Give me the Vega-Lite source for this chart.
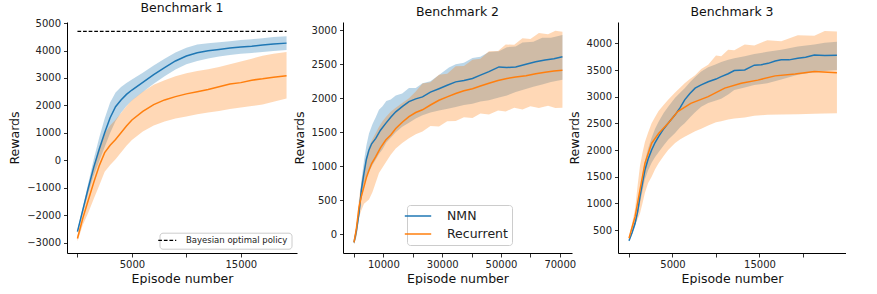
{
 "$schema": "https://vega.github.io/schema/vega-lite/v6.json",
 "autosize": {"type": "pad"},
 "padding": {"left": 8, "top": 1, "right": 0, "bottom": 0},
 "background": "white",
 "bounds": "flush",
 "spacing": 46,
 "config": {
  "font": "DejaVu Sans",
  "view": {"stroke": null},
  "axis": {"domainColor": "#000", "domainWidth": 1, "tickColor": "#333", "tickWidth": 1, "labelColor": "#222", "labelFontSize": 10, "titleFontSize": 12.5, "titleFontWeight": "normal", "titleColor": "#111", "grid": false, "labelFont": "DejaVu Sans", "titleFont": "DejaVu Sans", "labelOverlap": false, "tickCount": 30},
  "title": {"fontSize": 12.5, "fontWeight": "normal", "font": "DejaVu Sans", "offset": 4, "color": "#111"},
  "legend": {"labelFont": "DejaVu Sans", "labelColor": "#222", "strokeColor": "#cccccc", "fillColor": "rgba(255,255,255,0.8)", "cornerRadius": 3}
 },
 "datasets": {
  "l1": [
   {"s":"NMN","x":0,"y":-2600},{"s":"NMN","x":500,"y":-1800},{"s":"NMN","x":1000,"y":-1000},{"s":"NMN","x":1500,"y":-250},{"s":"NMN","x":2000,"y":400},{"s":"NMN","x":2500,"y":1000},{"s":"NMN","x":3000,"y":1550},{"s":"NMN","x":3500,"y":1950},{"s":"NMN","x":4000,"y":2200},{"s":"NMN","x":4500,"y":2400},{"s":"NMN","x":5000,"y":2560},{"s":"NMN","x":6000,"y":2840},{"s":"NMN","x":7000,"y":3120},{"s":"NMN","x":8000,"y":3380},{"s":"NMN","x":9000,"y":3620},{"s":"NMN","x":10000,"y":3800},{"s":"NMN","x":11000,"y":3920},{"s":"NMN","x":12000,"y":3990},{"s":"NMN","x":13000,"y":4040},{"s":"NMN","x":14000,"y":4090},{"s":"NMN","x":15000,"y":4130},{"s":"NMN","x":16000,"y":4160},{"s":"NMN","x":17000,"y":4200},{"s":"NMN","x":18000,"y":4240},{"s":"NMN","x":19200,"y":4270},
   {"s":"Recurrent","x":0,"y":-2850},{"s":"Recurrent","x":500,"y":-2100},{"s":"Recurrent","x":1000,"y":-1450},{"s":"Recurrent","x":1500,"y":-800},{"s":"Recurrent","x":2000,"y":-200},{"s":"Recurrent","x":2500,"y":280},{"s":"Recurrent","x":3000,"y":550},{"s":"Recurrent","x":3500,"y":760},{"s":"Recurrent","x":4000,"y":1000},{"s":"Recurrent","x":4500,"y":1250},{"s":"Recurrent","x":5000,"y":1470},{"s":"Recurrent","x":6000,"y":1780},{"s":"Recurrent","x":7000,"y":2030},{"s":"Recurrent","x":8000,"y":2200},{"s":"Recurrent","x":9000,"y":2320},{"s":"Recurrent","x":10000,"y":2420},{"s":"Recurrent","x":11000,"y":2500},{"s":"Recurrent","x":12000,"y":2580},{"s":"Recurrent","x":13000,"y":2680},{"s":"Recurrent","x":14000,"y":2780},{"s":"Recurrent","x":15000,"y":2830},{"s":"Recurrent","x":16000,"y":2920},{"s":"Recurrent","x":17000,"y":2970},{"s":"Recurrent","x":18000,"y":3030},{"s":"Recurrent","x":19200,"y":3080}
  ],
  "b1": [
   {"s":"NMN","x":0,"lo":-2660,"hi":-2540},{"s":"NMN","x":500,"lo":-1900,"hi":-1700},{"s":"NMN","x":1000,"lo":-1180,"hi":-820},{"s":"NMN","x":1500,"lo":-550,"hi":50},{"s":"NMN","x":2000,"lo":-30,"hi":830},{"s":"NMN","x":2500,"lo":480,"hi":1520},{"s":"NMN","x":3000,"lo":990,"hi":2110},{"s":"NMN","x":3500,"lo":1430,"hi":2470},{"s":"NMN","x":4000,"lo":1730,"hi":2670},{"s":"NMN","x":4500,"lo":1980,"hi":2820},{"s":"NMN","x":5000,"lo":2180,"hi":2940},{"s":"NMN","x":6000,"lo":2490,"hi":3190},{"s":"NMN","x":7000,"lo":2790,"hi":3450},{"s":"NMN","x":8000,"lo":3060,"hi":3700},{"s":"NMN","x":9000,"lo":3310,"hi":3930},{"s":"NMN","x":10000,"lo":3500,"hi":4100},{"s":"NMN","x":11000,"lo":3620,"hi":4220},{"s":"NMN","x":12000,"lo":3710,"hi":4270},{"s":"NMN","x":13000,"lo":3780,"hi":4300},{"s":"NMN","x":14000,"lo":3840,"hi":4340},{"s":"NMN","x":15000,"lo":3880,"hi":4380},{"s":"NMN","x":16000,"lo":3910,"hi":4410},{"s":"NMN","x":17000,"lo":3950,"hi":4450},{"s":"NMN","x":18000,"lo":3985,"hi":4495},{"s":"NMN","x":19200,"lo":4015,"hi":4525},
   {"s":"Recurrent","x":0,"lo":-2950,"hi":-2750},{"s":"Recurrent","x":500,"lo":-2350,"hi":-1850},{"s":"Recurrent","x":1000,"lo":-1900,"hi":-1000},{"s":"Recurrent","x":1500,"lo":-1400,"hi":-200},{"s":"Recurrent","x":2000,"lo":-920,"hi":500},{"s":"Recurrent","x":2500,"lo":-420,"hi":980},{"s":"Recurrent","x":3000,"lo":-170,"hi":1270},{"s":"Recurrent","x":3500,"lo":40,"hi":1480},{"s":"Recurrent","x":4000,"lo":280,"hi":1720},{"s":"Recurrent","x":4500,"lo":530,"hi":1970},{"s":"Recurrent","x":5000,"lo":740,"hi":2190},{"s":"Recurrent","x":6000,"lo":1050,"hi":2500},{"s":"Recurrent","x":7000,"lo":1270,"hi":2750},{"s":"Recurrent","x":8000,"lo":1410,"hi":2920},{"s":"Recurrent","x":9000,"lo":1520,"hi":3060},{"s":"Recurrent","x":10000,"lo":1600,"hi":3170},{"s":"Recurrent","x":11000,"lo":1680,"hi":3250},{"s":"Recurrent","x":12000,"lo":1740,"hi":3320},{"s":"Recurrent","x":13000,"lo":1800,"hi":3400},{"s":"Recurrent","x":14000,"lo":1870,"hi":3500},{"s":"Recurrent","x":15000,"lo":1920,"hi":3600},{"s":"Recurrent","x":16000,"lo":1980,"hi":3700},{"s":"Recurrent","x":17000,"lo":2030,"hi":3810},{"s":"Recurrent","x":18000,"lo":2130,"hi":3880},{"s":"Recurrent","x":19200,"lo":2250,"hi":3950}
  ],
  "l2": [
   {"s":"NMN","x":0,"y":-120},{"s":"NMN","x":800,"y":50},{"s":"NMN","x":1700,"y":310},{"s":"NMN","x":2500,"y":650},{"s":"NMN","x":3400,"y":900},{"s":"NMN","x":4200,"y":1100},{"s":"NMN","x":5100,"y":1240},{"s":"NMN","x":6000,"y":1330},{"s":"NMN","x":7400,"y":1410},{"s":"NMN","x":9000,"y":1530},{"s":"NMN","x":10800,"y":1630},{"s":"NMN","x":12500,"y":1720},{"s":"NMN","x":14200,"y":1800},{"s":"NMN","x":16500,"y":1880},{"s":"NMN","x":18700,"y":1950},{"s":"NMN","x":21000,"y":1990},{"s":"NMN","x":23300,"y":2020},{"s":"NMN","x":26000,"y":2090},{"s":"NMN","x":28900,"y":2140},{"s":"NMN","x":31700,"y":2190},{"s":"NMN","x":34600,"y":2240},{"s":"NMN","x":37400,"y":2260},{"s":"NMN","x":40300,"y":2290},{"s":"NMN","x":43000,"y":2340},{"s":"NMN","x":45900,"y":2390},{"s":"NMN","x":49300,"y":2460},{"s":"NMN","x":52000,"y":2450},{"s":"NMN","x":55000,"y":2460},{"s":"NMN","x":58500,"y":2500},{"s":"NMN","x":61800,"y":2535},{"s":"NMN","x":65000,"y":2560},{"s":"NMN","x":68000,"y":2580},{"s":"NMN","x":70900,"y":2610},
   {"s":"Recurrent","x":0,"y":-120},{"s":"Recurrent","x":800,"y":80},{"s":"Recurrent","x":1700,"y":400},{"s":"Recurrent","x":2500,"y":560},{"s":"Recurrent","x":3400,"y":700},{"s":"Recurrent","x":4200,"y":830},{"s":"Recurrent","x":5100,"y":940},{"s":"Recurrent","x":6000,"y":1040},{"s":"Recurrent","x":7400,"y":1140},{"s":"Recurrent","x":9000,"y":1270},{"s":"Recurrent","x":10800,"y":1385},{"s":"Recurrent","x":12500,"y":1460},{"s":"Recurrent","x":14200,"y":1555},{"s":"Recurrent","x":16500,"y":1650},{"s":"Recurrent","x":18700,"y":1730},{"s":"Recurrent","x":21000,"y":1790},{"s":"Recurrent","x":23300,"y":1830},{"s":"Recurrent","x":26000,"y":1900},{"s":"Recurrent","x":28900,"y":1970},{"s":"Recurrent","x":31700,"y":2020},{"s":"Recurrent","x":34600,"y":2070},{"s":"Recurrent","x":37400,"y":2110},{"s":"Recurrent","x":40300,"y":2140},{"s":"Recurrent","x":43000,"y":2180},{"s":"Recurrent","x":45900,"y":2220},{"s":"Recurrent","x":49000,"y":2260},{"s":"Recurrent","x":52000,"y":2290},{"s":"Recurrent","x":55000,"y":2310},{"s":"Recurrent","x":58500,"y":2330},{"s":"Recurrent","x":61800,"y":2360},{"s":"Recurrent","x":65000,"y":2380},{"s":"Recurrent","x":68000,"y":2400},{"s":"Recurrent","x":70900,"y":2410}
  ],
  "b2": [
   {"s":"NMN","x":0,"lo":-150,"hi":-100},{"s":"NMN","x":900,"lo":-20,"hi":120},{"s":"NMN","x":1700,"lo":230,"hi":380},{"s":"NMN","x":2500,"lo":500,"hi":780},{"s":"NMN","x":3400,"lo":720,"hi":1080},{"s":"NMN","x":4200,"lo":850,"hi":1300},{"s":"NMN","x":5100,"lo":920,"hi":1480},{"s":"NMN","x":6300,"lo":1020,"hi":1620},{"s":"NMN","x":7400,"lo":1100,"hi":1720},{"s":"NMN","x":8500,"lo":1180,"hi":1830},{"s":"NMN","x":9700,"lo":1250,"hi":1880},{"s":"NMN","x":11000,"lo":1350,"hi":1960},{"s":"NMN","x":12500,"lo":1420,"hi":1980},{"s":"NMN","x":14200,"lo":1500,"hi":2040},{"s":"NMN","x":16400,"lo":1580,"hi":2070},{"s":"NMN","x":18700,"lo":1640,"hi":2150},{"s":"NMN","x":21000,"lo":1700,"hi":2150},{"s":"NMN","x":23300,"lo":1750,"hi":2220},{"s":"NMN","x":26000,"lo":1790,"hi":2250},{"s":"NMN","x":28900,"lo":1820,"hi":2340},{"s":"NMN","x":32300,"lo":1850,"hi":2450},{"s":"NMN","x":34600,"lo":1870,"hi":2500},{"s":"NMN","x":37400,"lo":1900,"hi":2520},{"s":"NMN","x":40300,"lo":1920,"hi":2590},{"s":"NMN","x":43000,"lo":1950,"hi":2610},{"s":"NMN","x":45900,"lo":1970,"hi":2680},{"s":"NMN","x":49300,"lo":2010,"hi":2690},{"s":"NMN","x":52000,"lo":2040,"hi":2750},{"s":"NMN","x":55000,"lo":2090,"hi":2760},{"s":"NMN","x":57300,"lo":2120,"hi":2820},{"s":"NMN","x":61000,"lo":2170,"hi":2830},{"s":"NMN","x":64000,"lo":2200,"hi":2890},{"s":"NMN","x":67000,"lo":2240,"hi":2890},{"s":"NMN","x":70900,"lo":2270,"hi":2930},
   {"s":"Recurrent","x":0,"lo":-150,"hi":-100},{"s":"Recurrent","x":900,"lo":-20,"hi":150},{"s":"Recurrent","x":1700,"lo":250,"hi":520},{"s":"Recurrent","x":2500,"lo":350,"hi":760},{"s":"Recurrent","x":3400,"lo":450,"hi":960},{"s":"Recurrent","x":4200,"lo":480,"hi":1130},{"s":"Recurrent","x":5100,"lo":510,"hi":1290},{"s":"Recurrent","x":6300,"lo":620,"hi":1400},{"s":"Recurrent","x":7400,"lo":760,"hi":1490},{"s":"Recurrent","x":8500,"lo":900,"hi":1580},{"s":"Recurrent","x":9700,"lo":980,"hi":1660},{"s":"Recurrent","x":11000,"lo":1070,"hi":1730},{"s":"Recurrent","x":12500,"lo":1170,"hi":1800},{"s":"Recurrent","x":14200,"lo":1260,"hi":1860},{"s":"Recurrent","x":16400,"lo":1340,"hi":1930},{"s":"Recurrent","x":18700,"lo":1410,"hi":2000},{"s":"Recurrent","x":21000,"lo":1470,"hi":2100},{"s":"Recurrent","x":23300,"lo":1510,"hi":2215},{"s":"Recurrent","x":26000,"lo":1590,"hi":2235},{"s":"Recurrent","x":28900,"lo":1585,"hi":2345},{"s":"Recurrent","x":31700,"lo":1660,"hi":2360},{"s":"Recurrent","x":34600,"lo":1665,"hi":2470},{"s":"Recurrent","x":37400,"lo":1720,"hi":2475},{"s":"Recurrent","x":40300,"lo":1710,"hi":2565},{"s":"Recurrent","x":43000,"lo":1775,"hi":2580},{"s":"Recurrent","x":45900,"lo":1760,"hi":2690},{"s":"Recurrent","x":49000,"lo":1820,"hi":2695},{"s":"Recurrent","x":51600,"lo":1805,"hi":2790},{"s":"Recurrent","x":54500,"lo":1860,"hi":2785},{"s":"Recurrent","x":57300,"lo":1835,"hi":2880},{"s":"Recurrent","x":60000,"lo":1880,"hi":2870},{"s":"Recurrent","x":62900,"lo":1855,"hi":2960},{"s":"Recurrent","x":66000,"lo":1890,"hi":2940},{"s":"Recurrent","x":68500,"lo":1855,"hi":2990},{"s":"Recurrent","x":70900,"lo":1860,"hi":2975}
  ],
  "l3": [
   {"s":"NMN","x":0,"y":300},{"s":"NMN","x":350,"y":450},{"s":"NMN","x":700,"y":625},{"s":"NMN","x":1000,"y":850},{"s":"NMN","x":1260,"y":1125},{"s":"NMN","x":1550,"y":1380},{"s":"NMN","x":1830,"y":1625},{"s":"NMN","x":2200,"y":1830},{"s":"NMN","x":2600,"y":2000},{"s":"NMN","x":3000,"y":2140},{"s":"NMN","x":3400,"y":2250},{"s":"NMN","x":4000,"y":2400},{"s":"NMN","x":4500,"y":2500},{"s":"NMN","x":5300,"y":2660},{"s":"NMN","x":5900,"y":2800},{"s":"NMN","x":6400,"y":2940},{"s":"NMN","x":7000,"y":3060},{"s":"NMN","x":7600,"y":3160},{"s":"NMN","x":8300,"y":3220},{"s":"NMN","x":9100,"y":3280},{"s":"NMN","x":10000,"y":3330},{"s":"NMN","x":10600,"y":3375},{"s":"NMN","x":11400,"y":3430},{"s":"NMN","x":12100,"y":3490},{"s":"NMN","x":13300,"y":3500},{"s":"NMN","x":14400,"y":3590},{"s":"NMN","x":15200,"y":3600},{"s":"NMN","x":16000,"y":3625},{"s":"NMN","x":16800,"y":3670},{"s":"NMN","x":17500,"y":3690},{"s":"NMN","x":18400,"y":3690},{"s":"NMN","x":19400,"y":3720},{"s":"NMN","x":20300,"y":3740},{"s":"NMN","x":21300,"y":3780},{"s":"NMN","x":22500,"y":3770},{"s":"NMN","x":23900,"y":3775},
   {"s":"Recurrent","x":0,"y":345},{"s":"Recurrent","x":700,"y":750},{"s":"Recurrent","x":1260,"y":1250},{"s":"Recurrent","x":1830,"y":1750},{"s":"Recurrent","x":2600,"y":2125},{"s":"Recurrent","x":3400,"y":2310},{"s":"Recurrent","x":4500,"y":2500},{"s":"Recurrent","x":5600,"y":2720},{"s":"Recurrent","x":7100,"y":2875},{"s":"Recurrent","x":9100,"y":3000},{"s":"Recurrent","x":11000,"y":3160},{"s":"Recurrent","x":12900,"y":3250},{"s":"Recurrent","x":14800,"y":3310},{"s":"Recurrent","x":16800,"y":3390},{"s":"Recurrent","x":19100,"y":3425},{"s":"Recurrent","x":21300,"y":3470},{"s":"Recurrent","x":23900,"y":3450}
  ],
  "b3": [
   {"s":"NMN","x":0,"lo":280,"hi":320},{"s":"NMN","x":350,"lo":420,"hi":480},{"s":"NMN","x":700,"lo":570,"hi":680},{"s":"NMN","x":1000,"lo":780,"hi":930},{"s":"NMN","x":1260,"lo":1000,"hi":1250},{"s":"NMN","x":1550,"lo":1230,"hi":1530},{"s":"NMN","x":1830,"lo":1450,"hi":1800},{"s":"NMN","x":2200,"lo":1620,"hi":2030},{"s":"NMN","x":2600,"lo":1760,"hi":2230},{"s":"NMN","x":3000,"lo":1870,"hi":2400},{"s":"NMN","x":3400,"lo":1960,"hi":2530},{"s":"NMN","x":4000,"lo":2090,"hi":2700},{"s":"NMN","x":4500,"lo":2190,"hi":2810},{"s":"NMN","x":5300,"lo":2320,"hi":2980},{"s":"NMN","x":5900,"lo":2430,"hi":3080},{"s":"NMN","x":6400,"lo":2500,"hi":3160},{"s":"NMN","x":7000,"lo":2610,"hi":3270},{"s":"NMN","x":7600,"lo":2710,"hi":3370},{"s":"NMN","x":8300,"lo":2810,"hi":3470},{"s":"NMN","x":9100,"lo":2880,"hi":3550},{"s":"NMN","x":10000,"lo":2930,"hi":3610},{"s":"NMN","x":10600,"lo":2960,"hi":3650},{"s":"NMN","x":11400,"lo":3040,"hi":3690},{"s":"NMN","x":12100,"lo":3125,"hi":3720},{"s":"NMN","x":13300,"lo":3170,"hi":3760},{"s":"NMN","x":14400,"lo":3220,"hi":3800},{"s":"NMN","x":15900,"lo":3250,"hi":3840},{"s":"NMN","x":17500,"lo":3320,"hi":3880},{"s":"NMN","x":19400,"lo":3410,"hi":3940},{"s":"NMN","x":21300,"lo":3460,"hi":3980},{"s":"NMN","x":22500,"lo":3480,"hi":4010},{"s":"NMN","x":23900,"lo":3500,"hi":4030},
   {"s":"Recurrent","x":0,"lo":320,"hi":370},{"s":"Recurrent","x":350,"lo":500,"hi":620},{"s":"Recurrent","x":700,"lo":600,"hi":900},{"s":"Recurrent","x":1000,"lo":700,"hi":1350},{"s":"Recurrent","x":1260,"lo":810,"hi":1700},{"s":"Recurrent","x":1550,"lo":1000,"hi":1950},{"s":"Recurrent","x":1830,"lo":1200,"hi":2150},{"s":"Recurrent","x":2200,"lo":1380,"hi":2330},{"s":"Recurrent","x":2600,"lo":1500,"hi":2500},{"s":"Recurrent","x":3000,"lo":1640,"hi":2620},{"s":"Recurrent","x":3400,"lo":1750,"hi":2730},{"s":"Recurrent","x":4000,"lo":1890,"hi":2850},{"s":"Recurrent","x":4500,"lo":2000,"hi":2940},{"s":"Recurrent","x":5300,"lo":2130,"hi":3080},{"s":"Recurrent","x":5900,"lo":2200,"hi":3170},{"s":"Recurrent","x":6400,"lo":2250,"hi":3250},{"s":"Recurrent","x":7000,"lo":2300,"hi":3330},{"s":"Recurrent","x":7600,"lo":2350,"hi":3400},{"s":"Recurrent","x":8300,"lo":2400,"hi":3520},{"s":"Recurrent","x":9100,"lo":2460,"hi":3600},{"s":"Recurrent","x":10000,"lo":2520,"hi":3770},{"s":"Recurrent","x":10600,"lo":2540,"hi":3760},{"s":"Recurrent","x":11400,"lo":2570,"hi":3880},{"s":"Recurrent","x":12100,"lo":2590,"hi":3870},{"s":"Recurrent","x":13300,"lo":2610,"hi":3980},{"s":"Recurrent","x":14400,"lo":2640,"hi":3960},{"s":"Recurrent","x":15900,"lo":2660,"hi":4060},{"s":"Recurrent","x":17500,"lo":2665,"hi":4040},{"s":"Recurrent","x":19400,"lo":2670,"hi":4150},{"s":"Recurrent","x":21300,"lo":2680,"hi":4140},{"s":"Recurrent","x":22500,"lo":2685,"hi":4230},{"s":"Recurrent","x":23900,"lo":2690,"hi":4220}
  ],
  "opt": [{"x":0,"x2":19200,"v":4700,"k":"Bayesian optimal policy"}]
 },
 "hconcat": [
  {
   "width": 230, "height": 231,
   "title": "Benchmark 1",
   "resolve": {"scale": {"color": "independent", "strokeDash": "independent"}},
   "encoding": {
    "x": {"field": "x", "type": "quantitative", "scale": {"domain": [-960, 20160], "nice": false, "zero": false},
          "axis": {"title": "Episode number", "values": [0, 5000, 10000, 15000], "tickCount": 30, "format": "d", "labelExpr": "datum.value % 10000 == 5000 ? datum.label : ''", "tickSize": 4, "labelPadding": 2, "titlePadding": 3, "labelOverlap": false}},
    "color": {"field": "s", "type": "nominal", "scale": {"domain": ["NMN", "Recurrent"], "range": ["#1f77b4", "#ff7f0e"]}, "legend": null}
   },
   "layer": [
    {"data": {"name": "b1"}, "mark": {"type": "area", "opacity": 0.3},
     "encoding": {"y": {"field": "lo", "type": "quantitative", "stack": null, "scale": {"domain": [-3380, 5040], "nice": false, "zero": false},
       "axis": {"title": "Rewards", "values": [-3000, -2000, -1000, 0, 1000, 2000, 3000, 4000, 5000], "tickCount": 30, "format": "d", "tickSize": 3.5, "labelPadding": 3, "titlePadding": 5, "labelOverlap": false}},
      "y2": {"field": "hi"}}},
    {"data": {"name": "l1"}, "mark": {"type": "line", "strokeWidth": 1.5},
     "encoding": {"y": {"field": "y", "type": "quantitative"}}},
    {"data": {"name": "opt"}, "mark": {"type": "rule", "color": "black", "strokeWidth": 1.3},
     "encoding": {"x": {"field": "x", "type": "quantitative"}, "x2": {"field": "x2"}, "y": {"field": "v", "type": "quantitative"}, "color": {"value": "black"},
      "strokeDash": {"field": "k", "type": "nominal", "title": null, "scale": {"range": [[3.7, 1.9]]},
       "legend": {"orient": "none", "legendX": 92.5, "legendY": 210.7, "symbolType": "M-3,0H3", "symbolSize": 36, "symbolStrokeColor": "black", "symbolStrokeWidth": 1.3, "labelFontSize": 8.5, "padding": 3.5, "labelOffset": 14.5}}}}
   ]
  },
  {
   "width": 229, "height": 231,
   "title": "Benchmark 2",
   "encoding": {
    "x": {"field": "x", "type": "quantitative", "scale": {"domain": [-3740, 74150], "nice": false, "zero": false},
          "axis": {"title": "Episode number", "values": [0, 10000, 20000, 30000, 40000, 50000, 60000, 70000], "tickCount": 30, "format": "d", "labelExpr": "datum.value % 20000 == 10000 ? datum.label : ''", "tickSize": 4, "labelPadding": 2, "titlePadding": 3, "labelOverlap": false}},
    "color": {"field": "s", "type": "nominal", "scale": {"domain": ["NMN", "Recurrent"], "range": ["#1f77b4", "#ff7f0e"]},
      "legend": {"title": null, "orient": "none", "legendX": 64, "legendY": 183, "symbolType": "M-2.2,0H2.2", "symbolSize": 144, "symbolStrokeWidth": 1.5, "symbolOpacity": 1, "labelFontSize": 12.5, "padding": 4, "rowPadding": 4, "labelOffset": 22}}
   },
   "layer": [
    {"data": {"name": "b2"}, "mark": {"type": "area", "opacity": 0.3},
     "encoding": {"y": {"field": "lo", "type": "quantitative", "stack": null, "scale": {"domain": [-275, 3120], "nice": false, "zero": false},
       "axis": {"title": "Rewards", "values": [0, 500, 1000, 1500, 2000, 2500, 3000], "tickCount": 30, "format": "d", "tickSize": 3.5, "labelPadding": 3, "titlePadding": 5, "labelOverlap": false}},
      "y2": {"field": "hi"}}},
    {"data": {"name": "l2"}, "mark": {"type": "line", "strokeWidth": 1.5},
     "encoding": {"y": {"field": "y", "type": "quantitative"}}}
   ]
  },
  {
   "width": 228, "height": 231,
   "title": "Benchmark 3",
   "encoding": {
    "x": {"field": "x", "type": "quantitative", "scale": {"domain": [-1264, 24943], "nice": false, "zero": false},
          "axis": {"title": "Episode number", "values": [0, 5000, 10000, 15000, 20000, 25000], "tickCount": 30, "format": "d", "labelExpr": "datum.value % 10000 == 5000 ? datum.label : ''", "tickSize": 4, "labelPadding": 2, "titlePadding": 3, "labelOverlap": false}},
    "color": {"field": "s", "type": "nominal", "scale": {"domain": ["NMN", "Recurrent"], "range": ["#1f77b4", "#ff7f0e"]}, "legend": null}
   },
   "layer": [
    {"data": {"name": "b3"}, "mark": {"type": "area", "opacity": 0.3},
     "encoding": {"y": {"field": "lo", "type": "quantitative", "stack": null, "scale": {"domain": [69, 4400], "nice": false, "zero": false},
       "axis": {"title": "Rewards", "values": [500, 1000, 1500, 2000, 2500, 3000, 3500, 4000], "tickCount": 30, "format": "d", "tickSize": 3.5, "labelPadding": 3, "titlePadding": 5, "labelOverlap": false}},
      "y2": {"field": "hi"}}},
    {"data": {"name": "l3"}, "mark": {"type": "line", "strokeWidth": 1.5},
     "encoding": {"y": {"field": "y", "type": "quantitative"}}}
   ]
  }
 ],
 "resolve": {"scale": {"x": "independent", "y": "independent", "color": "independent"}, "legend": {"color": "independent"}}
}
